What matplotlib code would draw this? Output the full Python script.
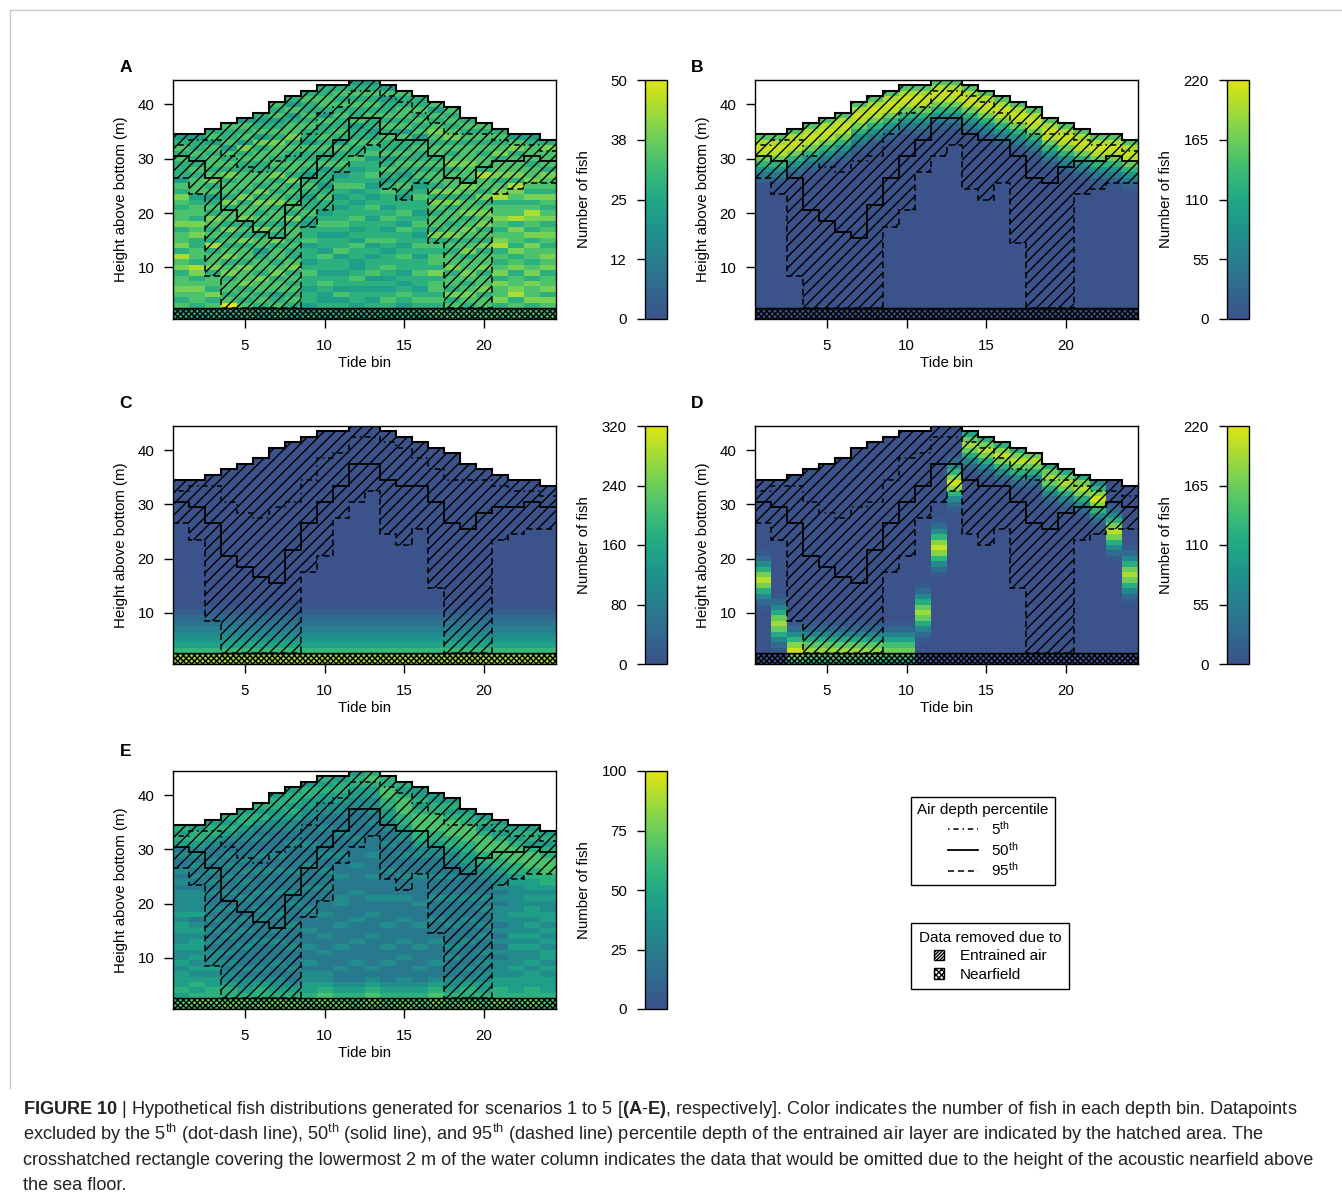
import numpy as np
import matplotlib
matplotlib.use('Agg')
import matplotlib.pyplot as plt
from matplotlib.colors import ListedColormap
from matplotlib.lines import Line2D
from matplotlib.patches import Patch, Rectangle

plt.rcParams['font.family'] = ['Liberation Sans', 'DejaVu Sans']
plt.rcParams['mathtext.fontset'] = 'custom'
plt.rcParams['mathtext.rm'] = 'Liberation Sans'
plt.rcParams['mathtext.bf'] = 'Liberation Sans:bold'
plt.rcParams['mathtext.it'] = 'Liberation Sans:italic'
plt.rcParams['hatch.linewidth'] = 1.0
plt.rcParams['hatch.color'] = 'black'

# ---- data ----
tide_bins = np.arange(1, 25)
# highest wet depth bin (m above bottom) per tide bin
water_height = [34, 34, 35, 36, 37, 38, 40, 41, 42, 43, 43, 44,
                44, 43, 42, 41, 40, 39, 37, 36, 35, 34, 34, 33]
# lower edge of the entrained air layer (m above bottom)
air_p05 = [32.5, 33.5, 33.5, 30.5, 28.5, 27.5, 29.5, 30.5, 34.5, 38.5, 39.5, 42.5,
           42.5, 41.5, 40.5, 38.5, 36.5, 34.5, 34.5, 34.5, 33.5, 32.5, 32.5, 31.5]
air_p50 = [30.5, 29.5, 26.5, 20.5, 18.5, 16.5, 15.5, 21.5, 26.5, 30.5, 33.5, 37.5,
           37.5, 34.5, 33.5, 33.5, 30.5, 26.5, 25.5, 28.5, 29.5, 29.5, 30.5, 29.5]
air_p95 = [26.5, 23.5, 8.5, 2.5, 2.5, 2.5, 2.5, 2.5, 17.5, 20.5, 27.5, 30.5,
           32.5, 24.5, 22.5, 25.5, 14.5, 2.5, 2.5, 2.5, 23.5, 24.5, 25.5, 25.5]
nearfield_height = 2

# scenario 1 (A): per tide bin, counts from the bottom cell up, in ninths of 50
counts_a = [
    "5465676657 6857665766 5675645556 5654",
    "4556676578 5665576756 6546665655 6554",
    "5565756657 6658565675 6546576566 56465",
    "4596566576 5765657566 5756657565 646556",
    "5565657667 5665756576 6575666556 5746564",
    "4556566756 6546657565 6757566556 65746545",
    "5565466576 5665756566 5765657565 6675654656",
    "4556565657 6556566575 6656575665 5657665464 5",
    "5445545565 4554655456 5545654565 5645565655 65",
    "4554456545 5645545654 5565455465 5656556456 655",
    "5454645545 5465545655 4545654565 5645655656 565",
    "4545545654 4556454565 5454655456 5565546556 5654",
    "5454545465 5454655545 6545456554 6565455656 5654",
    "4556545456 5545654565 4556545654 6556565655 464",
    "5545654545 5654556456 5545654565 6556465665 56",
    "4556545565 5456545654 5565456565 5654656565 5",
    "5656566575 6656575665 6757566565 6656765646",
    "6565756657 6656576566 5757666576 565765656",
    "5656765676 6576567657 6656756676 6656565",
    "6566576657 6657565767 6575668566 565656",
    "5657667576 5658765676 6587657665 76565",
    "6565876657 6575667586 6567857666 5764",
    "5657667576 5667575678 6575676656 6654",
    "6567576657 6765676576 5675667566 675",
]
# scenario 2 (B): counts by depth below the surface cell
b_surface_profile = [150, 195, 210, 200, 165, 125, 85, 50, 20, 5]
# scenario 3 (C): counts by height above bottom
c_bottom_profile = [280, 270, 190, 150, 125, 100, 80, 60, 40, 22, 8]
# scenario 4 (D): school centre height and peak count per tide bin
d_centre = [16, 8, 3, 3, 3, 3, 3, 3, 3, 3, 10, 22, 34, 41, 40, 39, 38, 38, 35, 34, 33, 31, 25, 17]
d_peak = [200, 190, 210, 185, 185, 185, 185, 180, 165, 165, 190, 210,
          210, 190, 200, 205, 200, 195, 190, 195, 200, 210, 200, 195]
d_shape = [0.05, 0.15, 0.35, 0.6, 0.85, 1.0, 0.85, 0.6, 0.35, 0.15, 0.05]
# scenario 5 (E): counts in ninths of 100
counts_e = [
    "6645444343 3433443433 3323232232 4545",
    "6754543434 3443432433 3322323233 4554",
    "6755443433 3232323232 2323232322 34554",
    "7655433232 3223232232 2322323232 234545",
    "6754332322 2322323222 3223232322 2334554",
    "7655432322 2232223232 2322232232 23234545",
    "6754332232 2232322322 2322232232 2223344554",
    "7654322322 2322232223 2322232222 3223345455 4",
    "6654433232 2322322232 2232223222 3222233445 54",
    "6765433222 3223222322 2232232232 2223223344 545",
    "7654322322 2322232223 3222322232 2232223344 554",
    "6654322232 2232223222 2322223222 2322222334 4554",
    "6765432322 2223222322 3222322232 2222323334 4565",
    "6654322232 2322232222 3222232222 3223344556 655",
    "7654332223 2232223222 3222322232 2334556665 45",
    "6654322322 2322232223 2222322233 4556665454 4",
    "6765432232 2232223222 3222322233 4556665544",
    "6654332223 2322232222 3222322334 556665454",
    "7655432322 2232223222 3222233445 5666554",
    "6654433232 3223232232 3222334556 665454",
    "6755443332 3232323332 3233345566 65454",
    "6654443433 3434333433 3334455666 5454",
    "6755444343 3434343443 4344556665 4554",
    "6654443434 4343434433 4345566655 454",
]

vmax_list = {'A': 50, 'B': 220, 'C': 320, 'D': 220, 'E': 100}
cbar_labels = {'A': ['0', '12', '25', '38', '50'],
               'B': ['0', '55', '110', '165', '220'],
               'C': ['0', '80', '160', '240', '320'],
               'D': ['0', '55', '110', '165', '220'],
               'E': ['0', '25', '50', '75', '100']}

n_depth = 44
x_edges = np.arange(0.5, len(tide_bins) + 1)
y_edges = np.arange(0.5, n_depth + 1)
water = np.array(water_height)


def grid_from_strings(cols, vmax):
    grid = np.full((n_depth, len(cols)), np.nan)
    for i, s in enumerate(cols):
        vals = [int(c) * vmax / 9 for c in s.replace(' ', '')]
        grid[:len(vals), i] = vals
    return grid


def mask_above_surface(grid):
    heights = np.arange(1, n_depth + 1)[:, None]
    grid[heights > water[None, :]] = np.nan
    return grid


grid_a = mask_above_surface(grid_from_strings(counts_a, vmax_list['A']))
grid_e = mask_above_surface(grid_from_strings(counts_e, vmax_list['E']))

grid_b = np.zeros((n_depth, len(tide_bins)))
for i, top in enumerate(water_height):
    for d, v in enumerate(b_surface_profile):
        grid_b[top - 1 - d, i] = v
grid_b = mask_above_surface(grid_b)

grid_c = np.zeros((n_depth, len(tide_bins)))
grid_c[:len(c_bottom_profile), :] = np.array(c_bottom_profile)[:, None]
grid_c = mask_above_surface(grid_c)

grid_d = np.zeros((n_depth, len(tide_bins)))
half = len(d_shape) // 2
for i in range(len(tide_bins)):
    for k, f in enumerate(d_shape):
        h = d_centre[i] + k - half
        if 1 <= h <= n_depth:
            grid_d[h - 1, i] = d_peak[i] * f
grid_d = mask_above_surface(grid_d)

grids = {'A': grid_a, 'B': grid_b, 'C': grid_c, 'D': grid_d, 'E': grid_e}

fish_cmap = ListedColormap(plt.cm.viridis(np.linspace(0.25, 0.95, 256)))

ls_p05 = (0, (1, 2.5, 3.5, 2.5))
ls_p95 = (0, (4, 2.5))

# ---- layout (pixels) ----
W, H = 1342, 1200
panel_boxes = {'A': (173, 80, 556, 319), 'B': (755, 80, 1138, 319),
               'C': (173, 426, 556, 664), 'D': (755, 426, 1138, 664),
               'E': (173, 771, 556, 1009)}
letter_pos = {'A': (126, 67), 'B': (697, 67), 'C': (126, 404),
              'D': (697, 404), 'E': (126, 751)}


def fig_box(left, top, right, bottom):
    return [left / W, 1 - bottom / H, (right - left) / W, (bottom - top) / H]


fig = plt.figure(figsize=(W / 100, H / 100), dpi=100)


def draw_panel(key):
    left, top, right, bottom = panel_boxes[key]
    ax = fig.add_axes(fig_box(left, top, right, bottom))
    cax = fig.add_axes(fig_box(left + 472, top, left + 494, bottom))
    vmax = vmax_list[key]

    mesh = ax.pcolormesh(x_edges, y_edges, np.ma.masked_invalid(grids[key]),
                         cmap=fish_cmap, vmin=0, vmax=vmax, zorder=1)
    # entrained air area
    ax.stairs(water + 0.5, x_edges, baseline=air_p95, fill=True,
              facecolor='none', edgecolor='black', hatch='///', linewidth=0, zorder=2)
    # acoustic nearfield
    ax.add_patch(Rectangle((x_edges[0], y_edges[0]), len(tide_bins), nearfield_height,
                           facecolor='none', edgecolor='black', hatch='x' * 6,
                           linewidth=1, zorder=3))
    ax.stairs(air_p05, x_edges, baseline=None, color='black', lw=1.1, ls=ls_p05, zorder=4)
    ax.stairs(air_p50, x_edges, baseline=None, color='black', lw=1.3, zorder=4)
    ax.stairs(air_p95, x_edges, baseline=None, color='black', lw=1.1, ls=ls_p95, zorder=4)
    ax.stairs(water + 0.5, x_edges, baseline=None, color='black', lw=1.5, zorder=4)

    ax.set_xlim(x_edges[0], x_edges[-1])
    ax.set_ylim(y_edges[0], y_edges[-1])
    ax.set_xticks([5, 10, 15, 20])
    ax.set_yticks([10, 20, 30, 40])
    ax.tick_params(axis='both', direction='out', length=6.3, width=1, labelsize=10.8)
    ax.tick_params(axis='x', pad=8)
    ax.tick_params(axis='y', pad=7)
    for sp in ax.spines.values():
        sp.set_linewidth(1)
    ax.set_xlabel('Tide bin', fontsize=10.8, va='center')
    ax.xaxis.set_label_coords(0.5, -44 / (bottom - top))
    ax.set_ylabel('Height above bottom (m)', fontsize=10.8, va='center')
    ax.yaxis.set_label_coords(-52 / (right - left), 0.5)

    cb = fig.colorbar(mesh, cax=cax, ticks=np.linspace(0, vmax, 5))
    cb.set_ticklabels(cbar_labels[key])
    cb.outline.set_linewidth(1)
    cax.yaxis.set_ticks_position('left')
    cax.yaxis.set_label_position('left')
    cax.tick_params(direction='out', length=6, width=1, labelsize=10.8, pad=7)
    cb.set_label('Number of fish', fontsize=10.8, va='center')
    cax.yaxis.set_label_coords(-61 / 22, 0.5)

    lx, ly = letter_pos[key]
    fig.text(lx / W, 1 - ly / H, key, fontsize=12.5, fontweight='bold',
             ha='center', va='center')
    return ax


for key in ['A', 'B', 'C', 'D', 'E']:
    draw_panel(key)

# ---- legends ----
line_handles = [Line2D([], [], color='black', lw=1.1, ls=ls_p05),
                Line2D([], [], color='black', lw=1.3),
                Line2D([], [], color='black', lw=1.1, ls=ls_p95)]
leg1 = fig.legend(line_handles,
                  [r'$5^{\mathrm{th}}$', r'$50^{\mathrm{th}}$', r'$95^{\mathrm{th}}$'],
                  title='Air depth percentile', loc='upper left',
                  bbox_to_anchor=(911 / W, 1 - 797 / H), frameon=True, fancybox=False,
                  edgecolor='black', framealpha=1, fontsize=11, title_fontsize=11,
                  handlelength=2.0, handletextpad=0.8, labelspacing=0.18,
                  borderpad=0.4, borderaxespad=0)
leg1.get_frame().set_linewidth(1.0)

patch_handles = [Patch(facecolor='white', edgecolor='black', hatch='/' * 10, lw=1),
                 Patch(facecolor='white', edgecolor='black', hatch='x' * 6, lw=1)]
leg2 = fig.legend(patch_handles, ['Entrained air', 'Nearfield'],
                  title='Data removed due to', loc='upper left',
                  bbox_to_anchor=(911 / W, 1 - 923 / H), frameon=True, fancybox=False,
                  edgecolor='black', framealpha=1, fontsize=11, title_fontsize=11,
                  handlelength=0.7, handleheight=0.7, handletextpad=1.0,
                  labelspacing=0.3, borderpad=0.5, borderaxespad=0)
leg2.get_frame().set_linewidth(1.0)

# ---- page frame and caption ----
fig.add_artist(Line2D([10 / W, 1], [1 - 10 / H] * 2, transform=fig.transFigure,
                      color='#c8c8c8', lw=1))
fig.add_artist(Line2D([10 / W] * 2, [1 - 10 / H, 1 - 1088 / H], transform=fig.transFigure,
                      color='#c8c8c8', lw=1))

caption = [
    r"$\mathbf{FIGURE\ 10}$ | Hypothetical fish distributions generated for scenarios 1 to 5 "
    r"[$\mathbf{(A}$-$\mathbf{E)}$, respectively]. Color indicates the number of fish in each depth bin. Datapoints",
    r"excluded by the $5^{\mathrm{th}}$ (dot-dash line), $50^{\mathrm{th}}$ (solid line), and "
    r"$95^{\mathrm{th}}$ (dashed line) percentile depth of the entrained air layer are indicated by the hatched area. The",
    "crosshatched rectangle covering the lowermost 2 m of the water column indicates the data "
    "that would be omitted due to the height of the acoustic nearfield above",
    "the sea floor.",
]
for i, line in enumerate(caption):
    fig.text(23 / W, 1 - (1114 + 25.5 * i) / H, line, fontsize=13.1, color='#222222',
             ha='left', va='baseline')

fig.savefig('out.png', dpi=100)
